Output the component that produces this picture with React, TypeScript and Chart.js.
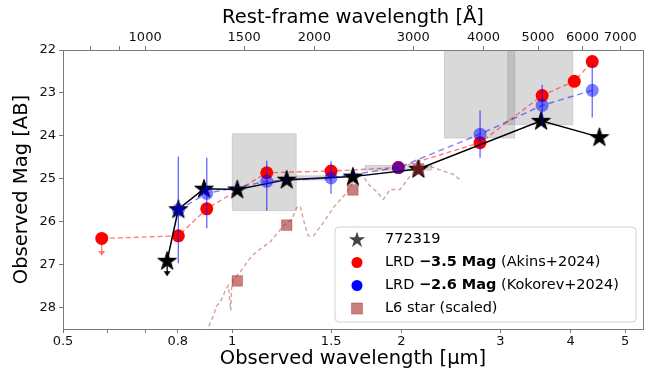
import React, { useEffect, useRef } from 'react';
import { Chart, registerables } from 'chart.js';

Chart.register(...registerables);

const FONT = "'DejaVu Sans', 'Liberation Sans', sans-serif";

// ---------------- data ----------------
// 772319 photometry (observed wavelength in micron, AB mag)
const starWave = [0.766, 0.802, 0.891, 1.021, 1.25, 1.639, 2.144, 3.544, 4.5];
const starMag = [26.91, 25.71, 25.23, 25.25, 25.02, 24.95, 24.77, 23.65, 24.03];

// LRD -3.5 mag (Akins+2024)
const akinsWave = [0.586, 0.802, 0.901, 1.152, 1.499, 1.975, 2.76, 3.56, 4.06, 4.37];
const akinsMag = [26.39, 26.33, 25.7, 24.86, 24.82, 24.74, 24.16, 23.06, 22.73, 22.27];

// LRD -2.6 mag (Kokorev+2024)
const kokorevWave = [0.802, 0.901, 1.152, 1.499, 1.975, 2.76, 3.56, 4.37];
const kokorevMag = [25.73, 25.34, 25.06, 24.98, 24.74, 23.96, 23.29, 22.94];
const kokorevErrBright = [24.48, 24.51, 24.58, 24.59, 24.7, 23.41, 22.81, 22.32];
const kokorevErrFaint = [26.97, 26.15, 25.74, 25.35, 24.78, 24.51, 23.77, 23.57];

// L6 star (scaled) synthetic photometry
const l6Wave = [1.021, 1.25, 1.639, 2.144];
const l6Mag = [27.38, 26.08, 25.26, 24.77];

// L6 star spectrum (scaled)
const specWave = [0.887, 0.907, 0.926, 0.938, 0.951, 0.964, 0.975, 0.984, 0.994, 0.997, 1.005, 1.032, 1.083, 1.12, 1.167, 1.233, 1.277, 1.303, 1.321, 1.348, 1.366, 1.395, 1.453, 1.514, 1.599, 1.666, 1.7, 1.759, 1.803, 1.858, 1.909, 1.989, 2.072, 2.159, 2.249, 2.375, 2.475, 2.561];
const specMag = [28.73, 28.46, 28.19, 27.96, 27.88, 27.72, 27.57, 27.49, 28.07, 27.57, 27.34, 27.18, 26.8, 26.64, 26.48, 26.1, 25.94, 25.67, 25.64, 26.1, 26.33, 26.33, 26.02, 25.67, 25.32, 24.94, 24.9, 25.17, 25.29, 25.48, 25.25, 25.25, 24.94, 24.74, 24.71, 24.82, 24.9, 25.06];

// shaded regions (observed wavelength range, mag range)
const boxWaveLo = [1.0, 1.3, 1.723, 2.385, 3.09];
const boxWaveHi = [1.3, 1.5, 2.265, 3.18, 4.035];
const boxMagTop = [23.95, 24.93, 24.69, 21.5, 21.5];
const boxMagBottom = [25.74, 25.03, 24.8, 24.05, 23.74];

// upper limits (arrows): wave, mag, arrow tip mag
const limitWave = [0.766, 0.586];
const limitMag = [26.91, 26.39];
const limitTip = [27.27, 26.8];
const limitColor = ['#000000', 'rgba(255,0,0,0.5)'];

// axes
const redshiftPlusOne = 7;
const obsMin = 0.5;
const obsMax = 5.38;
const obsTicks = [0.5, 0.6, 0.7, 0.8, 1, 1.5, 2, 3, 4, 5];
const obsTickLabels = ['0.5', '', '', '0.8', '1', '1.5', '2', '3', '4', '5'];
const restTicks = [800, 900, 1000, 1500, 2000, 3000, 4000, 5000, 6000, 7000];
const restTickLabels = ['', '', '1000', '1500', '2000', '3000', '4000', '5000', '6000', '7000'];
const magTicks = [22, 23, 24, 25, 26, 27, 28];
const magMin = 22;
const magMax = 28.5;

const AXIS_COLOR = '#7a7a7a';

function starPath(ctx: CanvasRenderingContext2D, cx: number, cy: number, ro: number, ri: number) {
  ctx.beginPath();
  for (let i = 0; i < 10; i++) {
    const r = i % 2 === 0 ? ro : ri;
    const a = -Math.PI / 2 + (i * Math.PI) / 5;
    const x = cx + r * Math.cos(a);
    const y = cy + r * Math.sin(a);
    if (i === 0) ctx.moveTo(x, y);
    else ctx.lineTo(x, y);
  }
  ctx.closePath();
}

function makeStarImage(size: number, ro: number, fill: string) {
  const c = document.createElement('canvas');
  c.width = size;
  c.height = size;
  const g = c.getContext('2d')!;
  starPath(g, size / 2, size / 2 + 0.5, ro, ro * 0.382);
  g.fillStyle = fill;
  g.fill();
  g.lineWidth = 1;
  g.strokeStyle = fill;
  g.stroke();
  return c;
}

const pts = (xs: number[], ys: number[]) => xs.map((x, i) => ({ x, y: ys[i] }));

const boxesPlugin = {
  id: 'boxes',
  beforeDatasetsDraw(chart: any) {
    const { ctx, chartArea, scales } = chart;
    const xs = scales.x;
    const ys = scales.y;
    ctx.save();
    ctx.beginPath();
    ctx.rect(chartArea.left, chartArea.top, chartArea.right - chartArea.left, chartArea.bottom - chartArea.top);
    ctx.clip();
    for (let i = 0; i < boxWaveLo.length; i++) {
      const x1 = xs.getPixelForValue(boxWaveLo[i]);
      const x2 = xs.getPixelForValue(boxWaveHi[i]);
      const y1 = ys.getPixelForValue(boxMagTop[i]);
      const y2 = ys.getPixelForValue(boxMagBottom[i]);
      ctx.fillStyle = 'rgba(128,128,128,0.3)';
      ctx.fillRect(x1, y1, x2 - x1, y2 - y1);
      ctx.strokeStyle = 'rgba(128,128,128,0.25)';
      ctx.lineWidth = 1;
      ctx.strokeRect(x1, y1, x2 - x1, y2 - y1);
    }
    ctx.restore();
  },
};

const overlayPlugin = {
  id: 'overlay',
  afterDatasetsDraw(chart: any) {
    const { ctx, chartArea, scales } = chart;
    const xs = scales.x;
    const ys = scales.y;
    ctx.save();
    // error bars for Kokorev
    ctx.strokeStyle = 'rgba(0,0,255,0.6)';
    ctx.lineWidth = 1.3;
    for (let i = 0; i < kokorevWave.length; i++) {
      const x = xs.getPixelForValue(kokorevWave[i]);
      ctx.beginPath();
      ctx.moveTo(x, ys.getPixelForValue(kokorevErrBright[i]));
      ctx.lineTo(x, ys.getPixelForValue(kokorevErrFaint[i]));
      ctx.stroke();
    }
    // upper limit arrows
    for (let i = 0; i < limitWave.length; i++) {
      const x = xs.getPixelForValue(limitWave[i]);
      const y0 = ys.getPixelForValue(limitMag[i]);
      const y1 = ys.getPixelForValue(limitTip[i]);
      ctx.strokeStyle = limitColor[i];
      ctx.fillStyle = limitColor[i];
      ctx.lineWidth = 1.3;
      ctx.beginPath();
      ctx.moveTo(x, y0);
      ctx.lineTo(x, y1 - 4);
      ctx.stroke();
      ctx.beginPath();
      ctx.moveTo(x - 3.5, y1 - 5);
      ctx.lineTo(x + 3.5, y1 - 5);
      ctx.lineTo(x, y1);
      ctx.closePath();
      ctx.fill();
    }
    // right spine
    ctx.strokeStyle = AXIS_COLOR;
    ctx.lineWidth = 1;
    ctx.beginPath();
    ctx.moveTo(Math.round(chartArea.right) + 0.5, chartArea.top);
    ctx.lineTo(Math.round(chartArea.right) + 0.5, chartArea.bottom);
    ctx.stroke();
    ctx.restore();
  },
};

const legendRows = [
  [{ t: '772319', b: false }],
  [{ t: 'LRD ', b: false }, { t: '\u22123.5 Mag', b: true }, { t: ' (Akins+2024)', b: false }],
  [{ t: 'LRD ', b: false }, { t: '\u22122.6 Mag', b: true }, { t: ' (Kokorev+2024)', b: false }],
  [{ t: 'L6 star (scaled)', b: false }],
];

const legendPlugin = {
  id: 'customLegend',
  afterDraw(chart: any) {
    const { ctx, chartArea } = chart;
    const w = 301;
    const h = 95;
    const x0 = chartArea.right - 7 - w;
    const y0 = chartArea.bottom - 7 - h;
    ctx.save();
    ctx.beginPath();
    const r = 4;
    ctx.moveTo(x0 + r, y0);
    ctx.lineTo(x0 + w - r, y0);
    ctx.arcTo(x0 + w, y0, x0 + w, y0 + r, r);
    ctx.lineTo(x0 + w, y0 + h - r);
    ctx.arcTo(x0 + w, y0 + h, x0 + w - r, y0 + h, r);
    ctx.lineTo(x0 + r, y0 + h);
    ctx.arcTo(x0, y0 + h, x0, y0 + h - r, r);
    ctx.lineTo(x0, y0 + r);
    ctx.arcTo(x0, y0, x0 + r, y0, r);
    ctx.closePath();
    ctx.fillStyle = 'rgba(255,255,255,0.85)';
    ctx.fill();
    ctx.strokeStyle = '#d0d0d0';
    ctx.lineWidth = 1;
    ctx.stroke();

    const mx = x0 + 22;
    const tx = x0 + 50;
    legendRows.forEach((row, i) => {
      const cy = y0 + 12.5 + i * 23;
      if (i === 0) {
        starPath(ctx, mx, cy + 0.5, 8.5, 8.5 * 0.382);
        ctx.fillStyle = '#444';
        ctx.fill();
      } else if (i === 1) {
        ctx.beginPath();
        ctx.arc(mx, cy, 5.5, 0, Math.PI * 2);
        ctx.fillStyle = '#ff0000';
        ctx.fill();
      } else if (i === 2) {
        ctx.beginPath();
        ctx.arc(mx, cy, 5.5, 0, Math.PI * 2);
        ctx.fillStyle = '#0000ff';
        ctx.fill();
      } else {
        ctx.fillStyle = 'rgba(165,42,42,0.6)';
        ctx.fillRect(mx - 5.5, cy - 5.5, 11, 11);
        ctx.strokeStyle = 'rgba(165,42,42,0.4)';
        ctx.strokeRect(mx - 5.5, cy - 5.5, 11, 11);
      }
      let x = tx;
      ctx.fillStyle = '#000';
      ctx.textBaseline = 'middle';
      ctx.textAlign = 'left';
      row.forEach((seg) => {
        ctx.font = `${seg.b ? 'bold ' : ''}14.5px ${FONT}`;
        ctx.fillText(seg.t, x, cy);
        x += ctx.measureText(seg.t).width;
      });
    });
    ctx.restore();
  },
};

export default function App() {
  const ref = useRef<HTMLCanvasElement>(null);

  useEffect(() => {
    document.body.style.margin = '0';
    const canvas = ref.current!;
    const starImg = makeStarImage(24, 9.8, '#000000');

    const tickFont = { family: FONT, size: 13 };
    const titleFont = { family: FONT, size: 19.5 };

    const chart = new Chart(canvas, {
      type: 'line',
      data: {
        datasets: [
          {
            label: 'L6 spectrum',
            data: pts(specWave, specMag),
            borderColor: 'rgba(165,42,42,0.45)',
            borderWidth: 1.4,
            borderDash: [4, 3],
            pointRadius: 0,
            order: 6,
          },
          {
            label: 'Akins',
            data: pts(akinsWave, akinsMag),
            borderColor: 'rgba(255,0,0,0.5)',
            borderWidth: 1.4,
            borderDash: [5, 3],
            pointRadius: 6.5,
            pointBackgroundColor: '#ff0000',
            pointBorderColor: '#ff0000',
            pointBorderWidth: 0,
            order: 5,
          },
          {
            label: '772319',
            data: pts(starWave, starMag),
            borderColor: '#000000',
            borderWidth: 1.5,
            pointStyle: starImg as any,
            pointRadius: 10,
            order: 4,
          },
          {
            label: 'Kokorev',
            data: pts(kokorevWave, kokorevMag),
            borderColor: 'rgba(0,0,255,0.5)',
            borderWidth: 1.4,
            borderDash: [6, 4],
            pointRadius: 6.5,
            pointBackgroundColor: 'rgba(0,0,255,0.5)',
            pointBorderColor: 'rgba(0,0,255,0.5)',
            pointBorderWidth: 0,
            order: 3,
          },
          {
            label: 'L6 star',
            data: pts(l6Wave, l6Mag),
            showLine: false,
            pointStyle: 'rect',
            pointRadius: 7.5,
            pointBackgroundColor: 'rgba(165,42,42,0.6)',
            pointBorderColor: 'rgba(165,42,42,0.35)',
            pointBorderWidth: 1,
            order: 2,
          },
        ] as any,
      },
      options: {
        animation: false,
        responsive: false,
        maintainAspectRatio: false,
        devicePixelRatio: 1,
        events: [],
        layout: { padding: { left: 0, right: 19, top: 0, bottom: 0 } },
        plugins: { legend: { display: false }, tooltip: { enabled: false } },
        scales: {
          x: {
            type: 'logarithmic',
            position: 'bottom',
            min: obsMin,
            max: obsMax,
            grid: { drawOnChartArea: false, drawTicks: true, tickLength: 4, color: AXIS_COLOR },
            border: { display: true, color: AXIS_COLOR },
            ticks: {
              font: tickFont,
              color: '#111',
              padding: 1,
              autoSkip: false,
              maxRotation: 0,
              callback: (v: any) => {
                const i = obsTicks.indexOf(Number(v));
                return i >= 0 ? obsTickLabels[i] : '';
              },
            },
            afterBuildTicks: (s: any) => {
              s.ticks = obsTicks.map((v) => ({ value: v }));
            },
            afterFit: (s: any) => {
              s.height = 42;
            },
            title: {
              display: true,
              text: 'Observed wavelength [\u03bcm]',
              font: titleFont,
              color: '#000',
              padding: { top: 0, bottom: 0 },
            },
          },
          x2: {
            type: 'logarithmic',
            position: 'top',
            min: (obsMin * 1e4) / redshiftPlusOne,
            max: (obsMax * 1e4) / redshiftPlusOne,
            grid: { drawOnChartArea: false, drawTicks: true, tickLength: 4, color: AXIS_COLOR },
            border: { display: true, color: AXIS_COLOR },
            ticks: {
              font: tickFont,
              color: '#111',
              padding: 1,
              autoSkip: false,
              maxRotation: 0,
              callback: (v: any) => {
                const i = restTicks.indexOf(Number(v));
                return i >= 0 ? restTickLabels[i] : '';
              },
            },
            afterBuildTicks: (s: any) => {
              s.ticks = restTicks.map((v) => ({ value: v }));
            },
            afterFit: (s: any) => {
              s.height = 50;
            },
            title: {
              display: true,
              text: 'Rest-frame wavelength [\u00c5]',
              font: titleFont,
              color: '#000',
              padding: { top: 6, bottom: 0 },
            },
          },
          y: {
            type: 'linear',
            reverse: true,
            min: magMin,
            max: magMax,
            grid: { drawOnChartArea: false, drawTicks: true, tickLength: 4, color: AXIS_COLOR },
            border: { display: true, color: AXIS_COLOR },
            ticks: { font: tickFont, color: '#111', padding: 3 },
            afterBuildTicks: (s: any) => {
              s.ticks = magTicks.map((v) => ({ value: v }));
            },
            afterFit: (s: any) => {
              s.width = 63;
            },
            title: {
              display: true,
              text: 'Observed Mag [AB]',
              font: titleFont,
              color: '#000',
              padding: { top: 10, bottom: 0 },
            },
          },
        },
      } as any,
      plugins: [boxesPlugin, overlayPlugin, legendPlugin],
    });

    return () => chart.destroy();
  }, []);

  return (
    <div style={{ width: 662, height: 371 }}>
      <canvas ref={ref} width={662} height={371} style={{ display: 'block' }} />
    </div>
  );
}
